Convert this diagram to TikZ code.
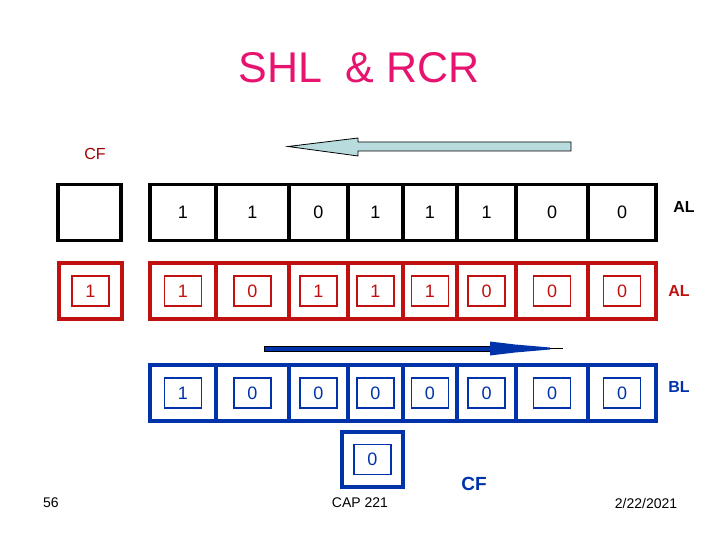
\documentclass[tikz,border=0pt]{standalone}
\usepackage{fontspec}
\setmainfont{Liberation Sans}
\definecolor{regred}{RGB}{192,16,16}
\definecolor{regblue}{RGB}{0,51,170}
\definecolor{titlepink}{RGB}{230,20,110}
\definecolor{cfred}{RGB}{160,0,0}
\definecolor{arrowfill}{RGB}{184,220,222}
\begin{document}
\begin{tikzpicture}[x=1pt,y=-1pt,
  cell/.style={draw, line width=3.8pt, minimum height=56pt, inner sep=0pt, font=\fontsize{18}{18}\selectfont},
  bit/.style={draw, line width=1.2pt, minimum width=37pt, minimum height=30pt, inner sep=0pt, font=\fontsize{18}{18}\selectfont},
  lab/.style={inner sep=0pt, font=\fontsize{16}{16}\selectfont\bfseries},
  small/.style={inner sep=0pt, font=\fontsize{14}{14}\selectfont}]
\useasboundingbox (0,0) rectangle (720,540);
% title
\node[inner sep=0pt, text=titlepink, font=\fontsize{43}{43}\selectfont] (title) at (359,68) {SHL\ \ \& RCR};
% top arrow (shift left)
\draw[fill=arrowfill, line width=0.8pt, line join=miter]
  (571,142) -- (358,142) -- (358,138) -- (288,146.5) -- (358,156) -- (358,151) -- (571,151) -- cycle;
\node[inner sep=0pt, text=cfred, font=\fontsize{16}{16}\selectfont] (cftop) at (95,154) {CF};
% black row
\node[cell, minimum width=63pt] (cf1) at (89.5,212.5) {};
\foreach \l/\r/\v [count=\i] in {150/216/1,216/289/1,289/348/0,348/403/1,403/457/1,457/516/1,516/588/0,588/656/0}
  \node[cell, minimum width=\r-\l] (k\i) at ({(\l+\r)/2},212.5) {\v};
\node[lab] (al1) at (684,207) {AL};
% red row
\node[cell, draw=regred, minimum width=63pt] (cf2) at (90.5,291) {};
\node[bit, draw=regred, text=regred] (cf2b) at (cf2.center) {1};
\foreach \l/\r/\v [count=\i] in {150/216/1,216/289/0,289/348/1,348/403/1,403/457/1,457/516/0,516/588/0,588/656/0}{
  \node[cell, draw=regred, minimum width=\r-\l] (r\i) at ({(\l+\r)/2},291) {};
  \node[bit, draw=regred, text=regred] (rb\i) at (r\i.center) {\v};
}
\node[lab, text=regred] (al2) at (679,291) {AL};
% blue arrow (shift right)
\fill[regblue] (264,346) -- (490,346) -- (490,341.5) -- (515,344.5) -- (550,347.5) -- (550,349.5) -- (515,352.5) -- (490,355.5) -- (490,351) -- (264,351) -- cycle;
\draw[line width=0.8pt] (264,346) -- (490,346) (264,351) -- (490,351) (264,346) -- (264,351);
\draw[line width=1pt] (550,348.5) -- (563,348.5);
% blue row
\foreach \l/\r/\v [count=\i] in {150/216/1,216/289/0,289/348/0,348/403/0,403/457/0,457/516/0,516/588/0,588/656/0}{
  \node[cell, draw=regblue, minimum width=\r-\l] (b\i) at ({(\l+\r)/2},393) {};
  \node[bit, draw=regblue, text=regblue] (bb\i) at (b\i.center) {\v};
}
\node[lab, text=regblue] (bl) at (679,387) {BL};
\node[cell, draw=regblue, minimum width=61pt, minimum height=55pt] (cf3) at (372.5,459.5) {};
\node[bit, draw=regblue, text=regblue] (cf3b) at (cf3.center) {0};
\node[inner sep=0pt, text=regblue, font=\fontsize{19}{19}\selectfont\bfseries] (cfbot) at (474,484) {CF};
% footer
\node[small] (page) at (51,503) {56};
\node[small] (course) at (360,503) {CAP 221};
\node[small] (date) at (646,503) {2/22/2021};
\end{tikzpicture}
\end{document}
